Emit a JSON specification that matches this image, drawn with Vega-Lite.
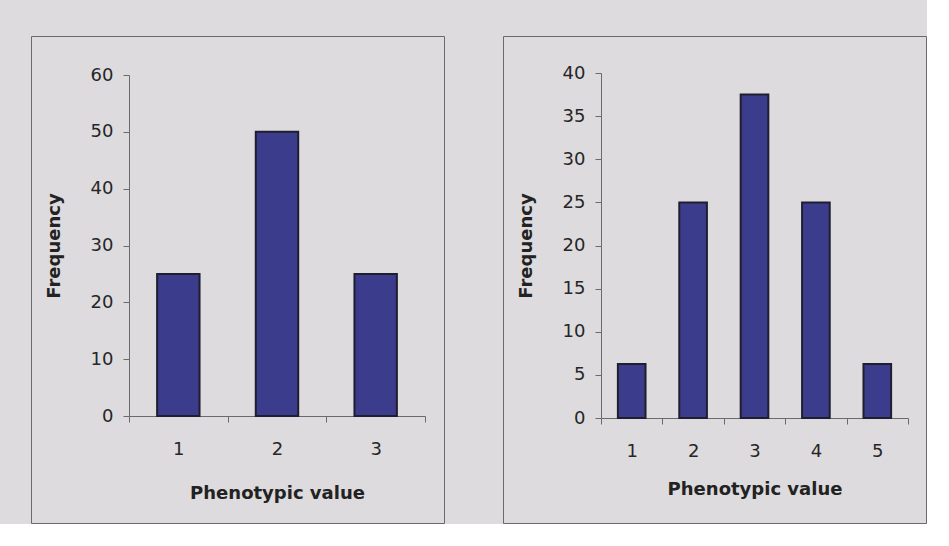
{
  "$schema": "https://vega.github.io/schema/vega-lite/v6.json",
  "background": "#dddbdd",
  "padding": {"left": 30, "top": 35, "right": 0, "bottom": 0},
  "autosize": {"type": "pad"},
  "spacing": 57,
  "config": {
    "view": {"stroke": "#6a6a6a", "strokeWidth": 1},
    "axis": {
      "labelFont": "DejaVu Sans", "labelFontSize": 18, "labelColor": "#262626",
      "titleFont": "DejaVu Sans", "titleFontSize": 18, "titleFontWeight": "bold", "titleColor": "#222222",
      "domainColor": "#6a6a6a", "tickColor": "#6a6a6a", "tickSize": 6, "grid": false
    }
  },
  "hconcat": [
    {
      "width": 413, "height": 487,
      "data": {"values": [
        {"value": "1", "freq": 25},
        {"value": "2", "freq": 50},
        {"value": "3", "freq": 25}
      ]},
      "mark": {"type": "bar", "fill": "#3c3c8c", "stroke": "#1e1e30", "strokeWidth": 2, "width": {"band": 0.43}},
      "encoding": {
        "x": {"field": "value", "type": "ordinal", "title": "Phenotypic value",
          "scale": {"range": [98, 394], "paddingInner": 0, "paddingOuter": 0},
          "axis": {"labelAngle": 0, "offset": -107, "tickBand": "extent", "labelPadding": 18, "titlePadding": 26}},
        "y": {"field": "freq", "type": "quantitative", "title": "Frequency",
          "scale": {"domain": [0, 60], "range": [380, 39], "nice": false},
          "axis": {"offset": -98, "values": [0, 10, 20, 30, 40, 50, 60], "labelPadding": 10, "titlePadding": 27}}
      }
    },
    {
      "width": 423, "height": 487,
      "data": {"values": [
        {"value": "1", "freq": 6.25},
        {"value": "2", "freq": 25},
        {"value": "3", "freq": 37.5},
        {"value": "4", "freq": 25},
        {"value": "5", "freq": 6.25}
      ]},
      "mark": {"type": "bar", "fill": "#3c3c8c", "stroke": "#1e1e30", "strokeWidth": 2, "width": {"band": 0.45}},
      "encoding": {
        "x": {"field": "value", "type": "ordinal", "title": "Phenotypic value",
          "scale": {"range": [98, 405], "paddingInner": 0, "paddingOuter": 0},
          "axis": {"labelAngle": 0, "offset": -105, "tickBand": "extent", "labelPadding": 18, "titlePadding": 20}},
        "y": {"field": "freq", "type": "quantitative", "title": "Frequency",
          "scale": {"domain": [0, 40], "range": [382, 37], "nice": false},
          "axis": {"offset": -98, "values": [0, 5, 10, 15, 20, 25, 30, 35, 40], "labelPadding": 10, "titlePadding": 27}}
      }
    }
  ]
}
